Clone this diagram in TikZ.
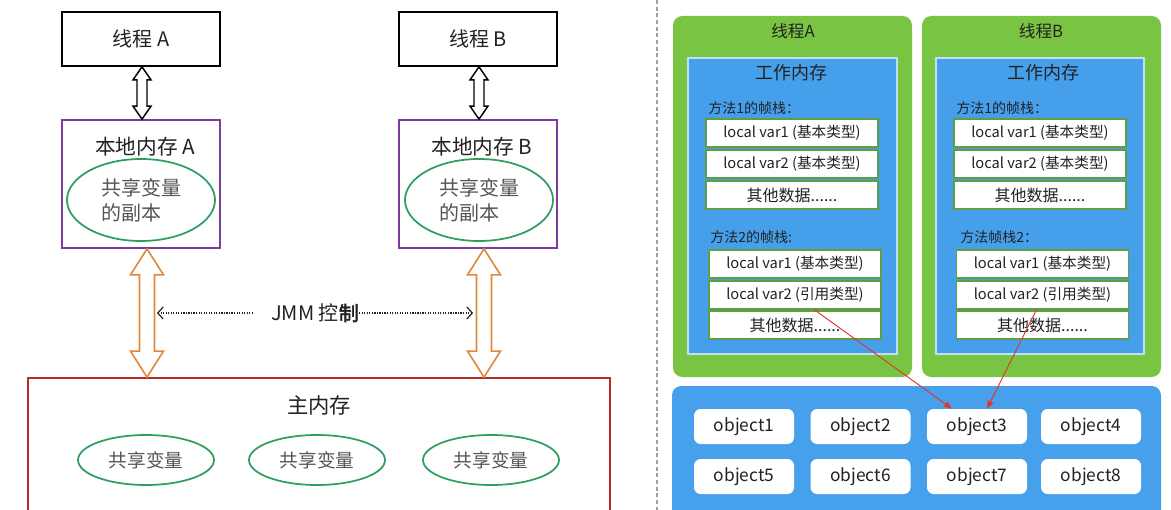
\documentclass[tikz,border=0pt]{standalone}
\usepackage{fontspec}
\setmainfont{Noto Sans CJK SC}
\newfontfamily\boldcjk[FakeBold=2]{Noto Sans CJK SC}
\usetikzlibrary{arrows.meta,calc,shapes.geometric}
\newlength\pxu \setlength\pxu{0.75pt}
\definecolor{txtdark}{HTML}{222222}
\definecolor{txtgray}{HTML}{555555}
\definecolor{purp}{HTML}{7A3D9E}
\definecolor{ellg}{HTML}{2E9E60}
\definecolor{orng}{HTML}{E0883A}
\definecolor{mainred}{HTML}{B52B2B}
\definecolor{greenfill}{HTML}{79C442}
\definecolor{bluefill}{HTML}{459FEB}
\definecolor{heapfill}{HTML}{47A0EC}
\definecolor{rowborder}{HTML}{5E9E45}
\definecolor{redarr}{HTML}{E5342A}
\definecolor{bluebord}{HTML}{BFE0F2}
\begin{document}
\begin{tikzpicture}[x=0.75pt,y=-0.75pt,
  blackbox/.style={draw=black, line width=1.3pt, inner sep=0pt, minimum width=158\pxu, minimum height=54\pxu, font=\fontsize{15}{18}\selectfont, text=txtdark},
  purplebox/.style={draw=purp, line width=1.3pt, inner sep=0pt, minimum width=158\pxu, minimum height=128\pxu},
  boxtitle/.style={inner sep=0pt, font=\fontsize{15.5}{18}\selectfont, text=txtdark},
  greenell/.style={ellipse, draw=ellg, line width=1.3pt, inner sep=0pt, text=txtgray},
  blackarr/.style={draw=black, line width=1.1pt, fill=white},
  orangearr/.style={draw=orng, line width=1.2pt, fill=white},
  jmmline/.style={draw=txtdark, line width=0.9pt, densely dotted, -{Straight Barb[length=4pt,width=9pt]}},
  mainbox/.style={draw=mainred, line width=1.3pt, inner sep=0pt, minimum width=582\pxu, minimum height=142\pxu},
  greenpanel/.style={fill=greenfill, rounded corners=7pt, inner sep=0pt, minimum width=239\pxu, minimum height=361\pxu},
  bluepanel/.style={fill=bluefill, draw=bluebord, line width=0.8pt, inner sep=0pt, minimum width=209\pxu, minimum height=296\pxu},
  ptitle/.style={inner sep=0pt, font=\fontsize{12.5}{15}\selectfont, text=txtdark},
  wtitle/.style={inner sep=0pt, font=\fontsize{13.5}{16}\selectfont, text=txtdark},
  mlabel/.style={inner sep=0pt, anchor=west, font=\fontsize{10.5}{12}\selectfont, text=txtdark},
  rowbox/.style={fill=white, draw=rowborder, line width=0.8pt, inner sep=0pt, minimum width=172\pxu, minimum height=28\pxu, font=\fontsize{11}{13}\selectfont, text=txtdark},
  rowbig/.style={rowbox, font=\fontsize{12}{14}\selectfont},
  heap/.style={fill=heapfill, rounded corners=7pt, inner sep=0pt, minimum width=489\pxu, minimum height=134\pxu},
  objbox/.style={fill=white, rounded corners=5pt, inner sep=0pt, minimum width=100\pxu, minimum height=35\pxu, font=\fontsize{13}{15}\selectfont, text=txtdark},
  refarr/.style={draw=redarr, line width=0.7pt, -{Triangle[length=6pt,width=4.5pt]}}
]
\clip (0,0) rectangle (1171,510);
\fill[white] (0,0) rectangle (1171,510);

% ---------------- left diagram ----------------
\node[blackbox] (thA) at (141,39) {线程 A};
\node[blackbox] (thB) at (478,39) {线程 B};

\node[purplebox] (locA) at (141,184) {};
\node[purplebox] (locB) at (478,184) {};
\node[boxtitle] (locAt) at (145,147) {本地内存 A};
\node[boxtitle] (locBt) at (482,147) {本地内存 B};
\node[greenell, minimum width=148\pxu, minimum height=82\pxu, align=left, font=\fontsize{15}{19}\selectfont] (ellA) at (141,200) {共享变量\\的副本};
\node[greenell, minimum width=148\pxu, minimum height=82\pxu, align=left, font=\fontsize{15}{19}\selectfont] (ellB) at (479,200) {共享变量\\的副本};

\node[mainbox] (main) at (319,449) {};
\node[boxtitle, font=\fontsize{16}{19}\selectfont] (mainT) at (319,405) {主内存};
\node[greenell, minimum width=136\pxu, minimum height=50\pxu, font=\fontsize{14}{17}\selectfont] (sv1) at (146,460) {共享变量};
\node[greenell, minimum width=136\pxu, minimum height=50\pxu, font=\fontsize{14}{17}\selectfont] (sv2) at (317,460) {共享变量};
\node[greenell, minimum width=136\pxu, minimum height=50\pxu, font=\fontsize{14}{17}\selectfont] (sv3) at (491,460) {共享变量};

% black hollow double arrows
\foreach \t/\b in {thA/locA, thB/locB}{
  \coordinate (bt) at ($(\t.south)+(1,0)$);
  \coordinate (bb) at ($(\b.north)+(1,0)$);
  \draw[blackarr] (bt) -- +(9,13) -- +(5,13) -- ($(bb)+(5,-13)$) -- ($(bb)+(9,-13)$) -- (bb)
     -- +(-9,-13) -- +(-5,-13) -- ($(bt)+(-5,13)$) -- ($(bt)+(-9,13)$) -- cycle;
}

% orange hollow double arrows
\coordinate (oa1) at ($(locA.south)+(6,0)$);
\coordinate (oa2) at (oa1 |- main.north);
\coordinate (ob1) at ($(locB.south)+(6,0)$);
\coordinate (ob2) at (ob1 |- main.north);
\foreach \p/\q in {oa1/oa2, ob1/ob2}{
  \draw[orangearr] (\p) -- +(16.5,26) -- +(7.5,26) -- ($(\q)+(7.5,-26)$) -- ($(\q)+(16.5,-26)$) -- (\q)
     -- +(-16.5,-26) -- +(-7.5,-26) -- ($(\p)+(-7.5,26)$) -- ($(\p)+(-16.5,26)$) -- cycle;
}

% JMM control
\node[inner sep=0pt, font=\fontsize{15}{18}\selectfont, text=txtdark] (jmm) at (315,313) {JMM 控{\boldcjk 制}};
\coordinate (jl) at (157,313);
\coordinate (jr) at (473,313);
\draw[jmmline] ($(jmm.west)+(-18,0)$) -- (jl);
\draw[jmmline] (jmm.east) -- (jr);

% separator
\draw[gray!75, line width=0.8pt, dash pattern=on 3pt off 2pt] (657,0) -- (657,510);

% ---------------- right diagram ----------------
\node[greenpanel] (gA) at (792.5,196.5) {};
\node[greenpanel] (gB) at (1041.5,196.5) {};
\node[ptitle] (gAt) at (793,31) {线程A};
\node[ptitle] (gBt) at (1041,31) {线程B};

\node[bluepanel] (wA) at (792.5,206) {};
\node[bluepanel, minimum width=208\pxu] (wB) at (1040,206) {};
\node[wtitle] (wAt) at (791,73) {工作内存};
\node[wtitle] (wBt) at (1043,73) {工作内存};

\node[mlabel] (mA1) at (708,108) {方法1的帧栈：};
\node[mlabel] (mB1) at (956,108) {方法1的帧栈：};
\node[mlabel] (mA2) at (710,237) {方法2的帧栈:};
\node[mlabel] (mB2) at (960,237) {方法帧栈2：};

\node[rowbox] (A1v1) at (792,133) {local var1 (基本类型)};
\node[rowbox] (A1v2) at (792,164) {local var2 (基本类型)};
\node[rowbig] (A1o)  at (792,195) {其他数据......};
\node[rowbox] (B1v1) at (1040,133) {local var1 (基本类型)};
\node[rowbox] (B1v2) at (1040,164) {local var2 (基本类型)};
\node[rowbig] (B1o)  at (1040,195) {其他数据......};

\node[rowbox] (A2v1) at (795,264) {local var1 (基本类型)};
\node[rowbox] (A2v2) at (795,295) {local var2 (引用类型)};
\node[rowbig] (A2o)  at (795,325) {其他数据......};
\node[rowbox] (B2v1) at (1042.5,264) {local var1 (基本类型)};
\node[rowbox] (B2v2) at (1042.5,295) {local var2 (引用类型)};
\node[rowbig] (B2o)  at (1042.5,325) {其他数据......};

\node[heap] (hp) at (916.5,453) {};
\node[objbox] (o1) at (744,426.5) {object1};
\node[objbox] (o2) at (860.5,426.5) {object2};
\node[objbox] (o3) at (977,426.5) {object3};
\node[objbox] (o4) at (1091,426.5) {object4};
\node[objbox] (o5) at (744,476.5) {object5};
\node[objbox] (o6) at (860.5,476.5) {object6};
\node[objbox] (o7) at (977,476.5) {object7};
\node[objbox] (o8) at (1091,476.5) {object8};

\draw[refarr] ($(A2v2.south)+(19,0)$) -- ($(o3.north)+(-25,0)$);
\draw[refarr] ($(B2v2.south)+(-6,0)$) -- ($(o3.north)+(10,0)$);
\end{tikzpicture}
\end{document}
